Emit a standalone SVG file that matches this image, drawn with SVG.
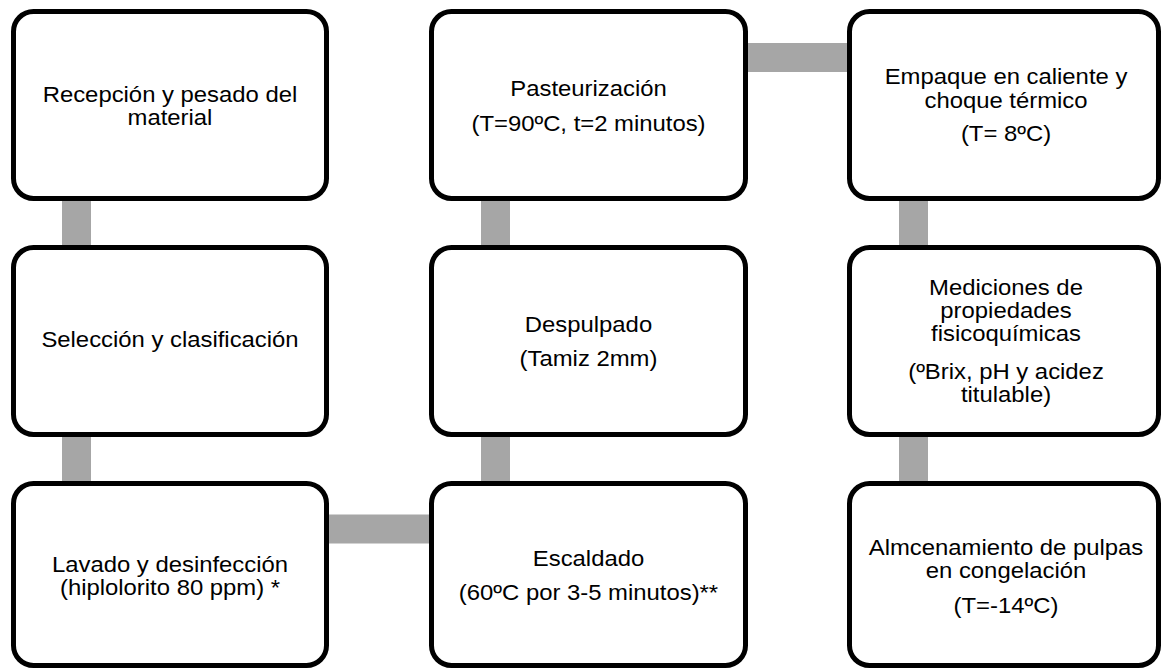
<svg xmlns="http://www.w3.org/2000/svg" width="1161" height="670" viewBox="0 0 1161 670">
<style>
.box{fill:#fff;stroke:#000;stroke-width:5}
.con{fill:#a6a6a6}
text{font-family:"Liberation Sans",Arial,sans-serif;font-size:22px;fill:#000;text-anchor:middle}
</style>
<rect width="1161" height="670" fill="#fff"/>
<g id="connectors">
<rect class="con" x="62" y="190" width="29" height="70"/>
<rect class="con" x="62" y="425" width="29" height="70"/>
<rect class="con" x="300" y="514.5" width="150" height="29"/>
<rect class="con" x="481" y="425" width="29" height="70"/>
<rect class="con" x="481" y="190" width="29" height="70"/>
<rect class="con" x="720" y="43" width="150" height="29"/>
<rect class="con" x="899" y="190" width="29" height="70"/>
<rect class="con" x="899" y="425" width="29" height="70"/>
</g>
<g id="n1">
<rect class="box" x="13.5" y="11.5" width="313" height="187" rx="20"/>
<text transform="translate(170,0) scale(1.085,1)"><tspan x="0" y="102">Recepción y pesado del</tspan><tspan x="0" y="125.5">material</tspan></text>
</g>
<g id="n2">
<rect class="box" x="13.5" y="247.5" width="313" height="187" rx="20"/>
<text transform="translate(170,0) scale(1.085,1)"><tspan x="0" y="347">Selección y clasificación</tspan></text>
</g>
<g id="n3">
<rect class="box" x="13.5" y="483.5" width="313" height="182" rx="20"/>
<text transform="translate(170,0) scale(1.085,1)"><tspan x="0" y="572">Lavado y desinfección</tspan><tspan x="0" y="595">(hiplolorito 80 ppm) *</tspan></text>
</g>
<g id="n4">
<rect class="box" x="431.5" y="483.5" width="314" height="182" rx="20"/>
<text transform="translate(588.5,0) scale(1.085,1)"><tspan x="0" y="566">Escaldado</tspan><tspan x="0" y="600">(60ºC por 3-5 minutos)**</tspan></text>
</g>
<g id="n5">
<rect class="box" x="431.5" y="247.5" width="314" height="187" rx="20"/>
<text transform="translate(588.5,0) scale(1.085,1)"><tspan x="0" y="332">Despulpado</tspan><tspan x="0" y="366">(Tamiz 2mm)</tspan></text>
</g>
<g id="n6">
<rect class="box" x="431.5" y="11.5" width="314" height="187" rx="20"/>
<text transform="translate(588.5,0) scale(1.085,1)"><tspan x="0" y="96">Pasteurización</tspan><tspan x="0" y="131">(T=90ºC, t=2 minutos)</tspan></text>
</g>
<g id="n7">
<rect class="box" x="849.5" y="11.5" width="309" height="187" rx="20"/>
<text transform="translate(1006,0) scale(1.085,1)"><tspan x="0" y="84">Empaque en caliente y</tspan><tspan x="0" y="108">choque térmico</tspan><tspan x="0" y="141">(T= 8ºC)</tspan></text>
</g>
<g id="n8">
<rect class="box" x="849.5" y="247.5" width="309" height="187" rx="20"/>
<text transform="translate(1006,0) scale(1.085,1)"><tspan x="0" y="295">Mediciones de</tspan><tspan x="0" y="318">propiedades</tspan><tspan x="0" y="341.5">fisicoquímicas</tspan><tspan x="0" y="379.5">(ºBrix, pH y acidez</tspan><tspan x="0" y="402.5">titulable)</tspan></text>
</g>
<g id="n9">
<rect class="box" x="849.5" y="483.5" width="309" height="182" rx="20"/>
<text transform="translate(1006,0) scale(1.085,1)"><tspan x="0" y="555">Almcenamiento de pulpas</tspan><tspan x="0" y="578">en congelación</tspan><tspan x="0" y="613">(T=-14ºC)</tspan></text>
</g>
</svg>
